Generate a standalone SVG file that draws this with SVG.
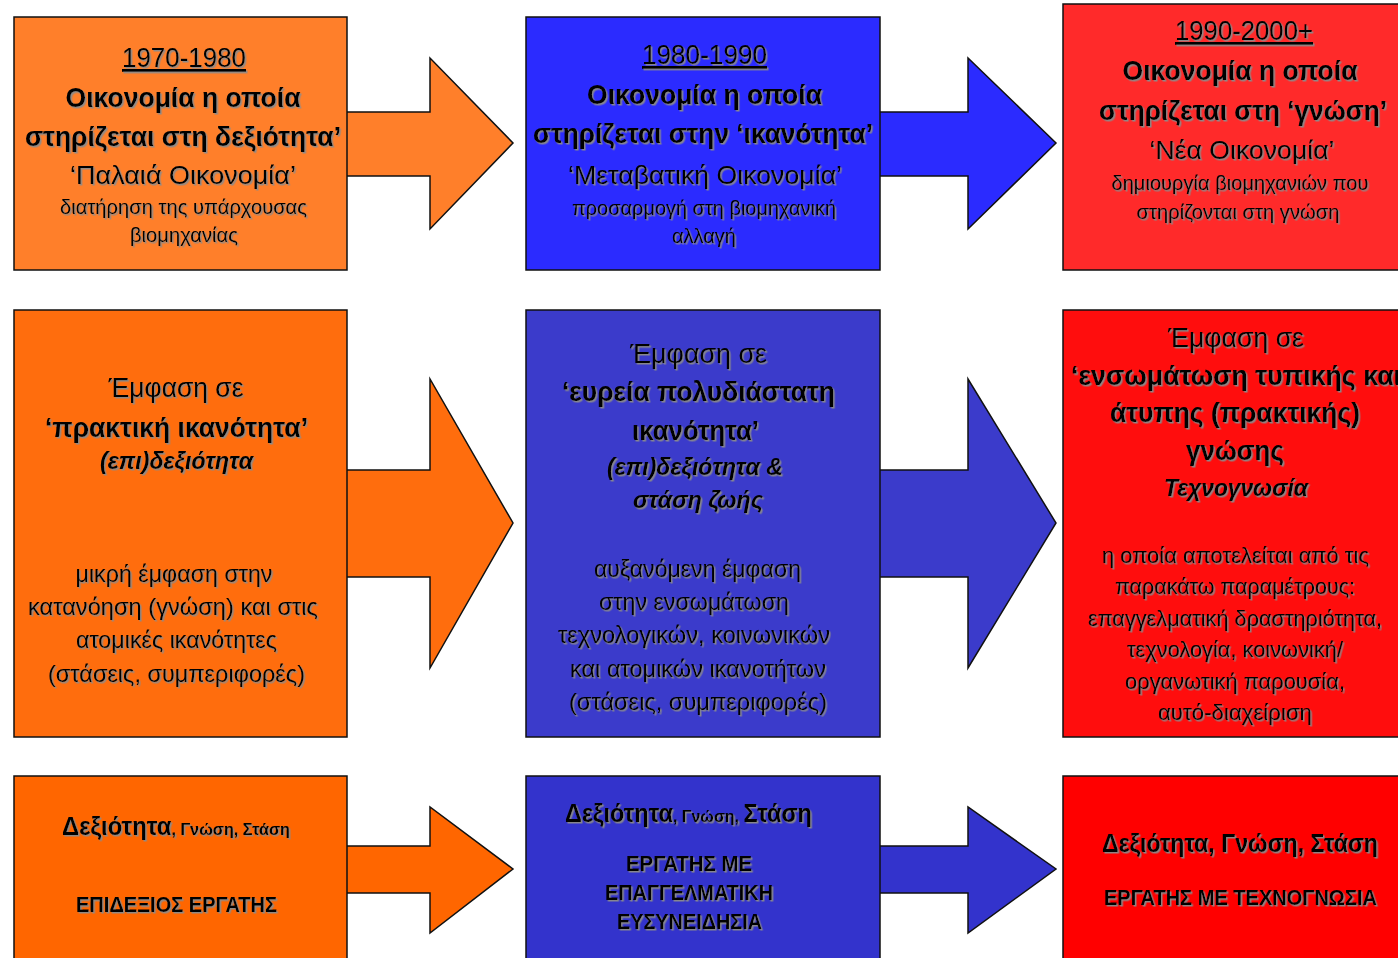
<svg xmlns="http://www.w3.org/2000/svg" width="1398" height="958" viewBox="0 0 1398 958">
<defs>
<filter id="sh" x="-5%" y="-20%" width="110%" height="140%">
<feDropShadow dx="1.5" dy="1.5" stdDeviation="0.2" flood-color="#8a8a8a" flood-opacity="0.95"/>
</filter>
<style>
.box{stroke:#111;stroke-width:1.5}
.arr{stroke:#111;stroke-width:1.5;stroke-linejoin:miter}
text{font-family:"Liberation Sans",Arial,sans-serif;fill:#000;text-anchor:middle;filter:url(#sh)}
.b{font-weight:bold}
.i{font-style:italic}
.u{text-decoration:underline}
.o1{fill:#FF7F2A}.bl1{fill:#2B2BFF}.r1{fill:#FF2A2A}
.o2{fill:#FF6D0D}.bl2{fill:#3B3BCB}.r2{fill:#FF0D0D}
.o3{fill:#FF6600}.bl3{fill:#3333CC}.r3{fill:#FF0000}
</style>
</defs>
<rect width="1398" height="958" fill="#fff"/>
<g id="connectors">
<polygon class="arr o1" points="340,112 430,112 430,58 513,143 430,229 430,176 340,176"/>
<polygon class="arr bl1" points="874,112 968,112 968,58 1056,143 968,229 968,176 874,176"/>
<polygon class="arr o2" points="340,470 430,470 430,379 513,523 430,668 430,577 340,577"/>
<polygon class="arr bl2" points="874,470 968,470 968,379 1056,523 968,668 968,577 874,577"/>
<polygon class="arr o3" points="340,846 430,846 430,807 513,869 430,933 430,893 340,893"/>
<polygon class="arr bl3" points="874,846 968,846 968,807 1056,869 968,933 968,893 874,893"/>
</g>
<g id="n1970">
<rect class="box o1" x="14" y="17" width="333" height="253"/>
<text class="u" x="184" y="67" font-size="28" textLength="124" lengthAdjust="spacingAndGlyphs">1970-1980</text>
<text class="b" x="183" y="107" font-size="28" textLength="235" lengthAdjust="spacingAndGlyphs">Οικονομία η οποία</text>
<text class="b" x="183" y="146" font-size="28" textLength="316" lengthAdjust="spacingAndGlyphs">στηρίζεται στη δεξιότητα’</text>
<text x="183" y="184" font-size="26" textLength="226" lengthAdjust="spacingAndGlyphs">‘Παλαιά Οικονομία’</text>
<text x="183.5" y="214" font-size="21" textLength="247" lengthAdjust="spacingAndGlyphs">διατήρηση της υπάρχουσας</text>
<text x="184" y="242" font-size="21" textLength="108" lengthAdjust="spacingAndGlyphs">βιομηχανίας</text>
</g>
<g id="n1980">
<rect class="box bl1" x="526" y="17" width="354" height="253"/>
<text class="u" x="704.5" y="64" font-size="28" textLength="125" lengthAdjust="spacingAndGlyphs">1980-1990</text>
<text class="b" x="704.5" y="104" font-size="28" textLength="235" lengthAdjust="spacingAndGlyphs">Οικονομία η οποία</text>
<text class="b" x="703" y="143" font-size="28" textLength="340" lengthAdjust="spacingAndGlyphs">στηρίζεται στην ‘ικανότητα’</text>
<text x="705" y="184" font-size="26" textLength="274" lengthAdjust="spacingAndGlyphs">‘Μεταβατική Οικονομία’</text>
<text x="704" y="215" font-size="21" textLength="264" lengthAdjust="spacingAndGlyphs">προσαρμογή στη βιομηχανική</text>
<text x="704" y="243" font-size="21" textLength="64" lengthAdjust="spacingAndGlyphs">αλλαγή</text>
</g>
<g id="n1990">
<rect class="box r1" x="1063" y="4" width="345" height="266"/>
<text class="u" x="1244" y="40" font-size="28" textLength="138" lengthAdjust="spacingAndGlyphs">1990-2000+</text>
<text class="b" x="1240" y="80" font-size="28" textLength="235" lengthAdjust="spacingAndGlyphs">Οικονομία η οποία</text>
<text class="b" x="1243" y="120" font-size="28" textLength="288" lengthAdjust="spacingAndGlyphs">στηρίζεται στη ‘γνώση’</text>
<text x="1242" y="159" font-size="26" textLength="185" lengthAdjust="spacingAndGlyphs">‘Νέα Οικονομία’</text>
<text x="1240" y="190" font-size="21" textLength="257" lengthAdjust="spacingAndGlyphs">δημιουργία βιομηχανιών που</text>
<text x="1238" y="219" font-size="21" textLength="203" lengthAdjust="spacingAndGlyphs">στηρίζονται στη γνώση</text>
</g>
<g id="emph-skill">
<rect class="box o2" x="14" y="310" width="333" height="427"/>
<text x="176" y="397" font-size="27" textLength="135" lengthAdjust="spacingAndGlyphs">Έμφαση σε</text>
<text class="b" x="176.5" y="437" font-size="27" textLength="263" lengthAdjust="spacingAndGlyphs">‘πρακτική ικανότητα’</text>
<text class="b i" x="176.5" y="469" font-size="24" textLength="153" lengthAdjust="spacingAndGlyphs">(επι)δεξιότητα</text>
<text x="174" y="582" font-size="24" textLength="197" lengthAdjust="spacingAndGlyphs">μικρή έμφαση στην</text>
<text x="173" y="615" font-size="24" textLength="290" lengthAdjust="spacingAndGlyphs">κατανόηση (γνώση) και στις</text>
<text x="176.5" y="648" font-size="24" textLength="201" lengthAdjust="spacingAndGlyphs">ατομικές ικανότητες</text>
<text x="176.5" y="682" font-size="24" textLength="257" lengthAdjust="spacingAndGlyphs">(στάσεις, συμπεριφορές)</text>
</g>
<g id="emph-competence">
<rect class="box bl2" x="526" y="310" width="354" height="427"/>
<text x="698.5" y="363" font-size="27" textLength="137" lengthAdjust="spacingAndGlyphs">Έμφαση σε</text>
<text class="b" x="698.5" y="401" font-size="27" textLength="273" lengthAdjust="spacingAndGlyphs">‘ευρεία πολυδιάστατη</text>
<text class="b" x="695.5" y="440" font-size="27" textLength="127" lengthAdjust="spacingAndGlyphs">ικανότητα’</text>
<text class="b i" x="695" y="475" font-size="24" textLength="176" lengthAdjust="spacingAndGlyphs">(επι)δεξιότητα &amp;</text>
<text class="b i" x="698" y="508" font-size="24" textLength="130" lengthAdjust="spacingAndGlyphs">στάση ζωής</text>
<text x="697.5" y="577" font-size="24" textLength="207" lengthAdjust="spacingAndGlyphs">αυξανόμενη έμφαση</text>
<text x="694" y="610" font-size="24" textLength="190" lengthAdjust="spacingAndGlyphs">στην ενσωμάτωση</text>
<text x="694" y="643" font-size="24" textLength="272" lengthAdjust="spacingAndGlyphs">τεχνολογικών, κοινωνικών</text>
<text x="698" y="677" font-size="24" textLength="256" lengthAdjust="spacingAndGlyphs">και ατομικών ικανοτήτων</text>
<text x="698" y="710" font-size="24" textLength="258" lengthAdjust="spacingAndGlyphs">(στάσεις, συμπεριφορές)</text>
</g>
<g id="emph-knowledge">
<rect class="box r2" x="1063" y="310" width="345" height="427"/>
<text x="1236" y="347" font-size="27" textLength="136" lengthAdjust="spacingAndGlyphs">Έμφαση σε</text>
<text class="b" x="1236" y="385" font-size="27" textLength="330" lengthAdjust="spacingAndGlyphs">‘ενσωμάτωση τυπικής και</text>
<text class="b" x="1235" y="422" font-size="27" textLength="250" lengthAdjust="spacingAndGlyphs">άτυπης (πρακτικής)</text>
<text class="b" x="1235" y="460" font-size="27" textLength="98" lengthAdjust="spacingAndGlyphs">γνώσης</text>
<text class="b i" x="1236" y="496" font-size="24" textLength="144" lengthAdjust="spacingAndGlyphs">Τεχνογνωσία</text>
<text x="1235.5" y="563" font-size="22" textLength="267" lengthAdjust="spacingAndGlyphs">η οποία αποτελείται από τις</text>
<text x="1235" y="594" font-size="22" textLength="240" lengthAdjust="spacingAndGlyphs">παρακάτω παραμέτρους:</text>
<text x="1235" y="626" font-size="22" textLength="294" lengthAdjust="spacingAndGlyphs">επαγγελματική δραστηριότητα,</text>
<text x="1235" y="657" font-size="22" textLength="216" lengthAdjust="spacingAndGlyphs">τεχνολογία, κοινωνική/</text>
<text x="1235" y="689" font-size="22" textLength="220" lengthAdjust="spacingAndGlyphs">οργανωτική παρουσία,</text>
<text x="1235" y="720" font-size="22" textLength="154" lengthAdjust="spacingAndGlyphs">αυτό-διαχείριση</text>
</g>
<g id="worker-skilled">
<rect class="box o3" x="14" y="776" width="333" height="195"/>
<text class="b" x="176" y="835" font-size="25" textLength="228" lengthAdjust="spacingAndGlyphs">Δεξιότητα<tspan font-size="17">, Γνώση, Στάση</tspan></text>
<text class="b" x="176.5" y="912" font-size="22" textLength="201" lengthAdjust="spacingAndGlyphs">ΕΠΙΔΕΞΙΟΣ ΕΡΓΑΤΗΣ</text>
</g>
<g id="worker-professional">
<rect class="box bl3" x="526" y="776" width="354" height="195"/>
<text class="b" x="688.5" y="822" font-size="25" textLength="247" lengthAdjust="spacingAndGlyphs">Δεξιότητα<tspan font-size="17">, Γνώση, </tspan>Στάση</text>
<text class="b" x="689" y="871" font-size="22" textLength="126" lengthAdjust="spacingAndGlyphs">ΕΡΓΑΤΗΣ ΜΕ</text>
<text class="b" x="689" y="900" font-size="22" textLength="168" lengthAdjust="spacingAndGlyphs">ΕΠΑΓΓΕΛΜΑΤΙΚΗ</text>
<text class="b" x="689.5" y="929" font-size="22" textLength="145" lengthAdjust="spacingAndGlyphs">ΕΥΣΥΝΕΙΔΗΣΙΑ</text>
</g>
<g id="worker-knowhow">
<rect class="box r3" x="1063" y="776" width="345" height="195"/>
<text class="b" x="1240" y="852" font-size="25" textLength="276" lengthAdjust="spacingAndGlyphs">Δεξιότητα, Γνώση, Στάση</text>
<text class="b" x="1240.5" y="905" font-size="22" textLength="273" lengthAdjust="spacingAndGlyphs">ΕΡΓΑΤΗΣ ΜΕ ΤΕΧΝΟΓΝΩΣΙΑ</text>
</g>
</svg>
